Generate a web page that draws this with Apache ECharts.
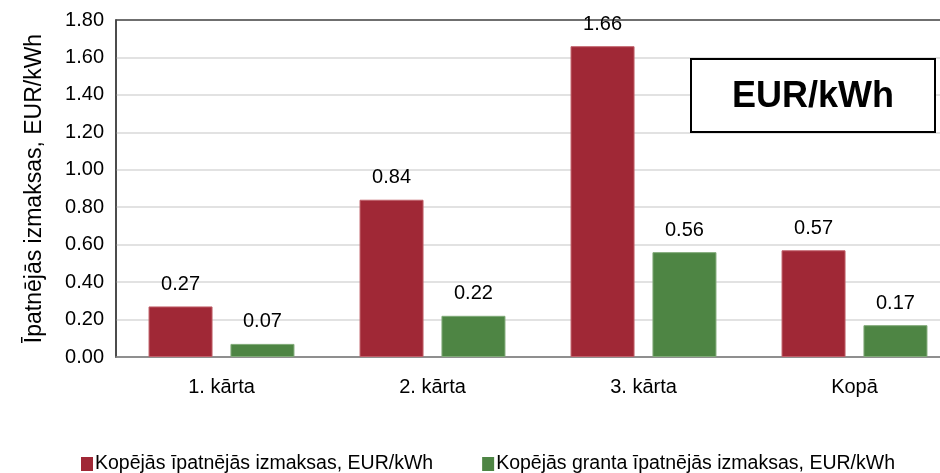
<!DOCTYPE html>
<html><head><meta charset="utf-8">
<script src="https://cdn.jsdelivr.net/npm/echarts@6/dist/echarts.min.js"></script>
<style>html,body{margin:0;padding:0;background:#fff}#c{width:940px;height:473px}</style>
</head><body><div id="c"></div>
<script>
const categories = ['1. kārta', '2. kārta', '3. kārta', 'Kopā'];
const totalCost = [0.27, 0.84, 1.66, 0.57];
const grantCost = [0.07, 0.22, 0.56, 0.17];
const seriesNames = ['Kopējās īpatnējās izmaksas, EUR/kWh', 'Kopējās granta īpatnējās izmaksas, EUR/kWh'];
const yAxisName = 'Īpatnējās izmaksas, EUR/kWh';
const boxText = 'EUR/kWh';

const FONT = '"Liberation Sans", Arial, sans-serif';
const chart = echarts.init(document.getElementById('c'));
const labelCfg = {show: true, position: 'top', distance: 12, color: '#000', fontSize: 20, fontFamily: FONT,
  formatter: p => p.value.toFixed(2)};
chart.setOption({
  animation: false,
  textStyle: {fontFamily: FONT},
  grid: {left: 116, width: 844, top: 20, height: 337, outerBoundsMode: 'none', containLabel: false,
    show: true, borderColor: '#404040', borderWidth: 1.5, backgroundColor: 'transparent'},
  legend: {
    top: 449, left: 76, itemWidth: 12, itemHeight: 14, itemGap: 49,
    icon: 'rect',
    itemStyle: {borderWidth: 0},
    textStyle: {fontSize: 19.5, color: '#000', fontFamily: FONT, padding: [0,0,0,-3]},
    data: seriesNames
  },
  xAxis: {
    type: 'category', data: categories,
    axisLine: {lineStyle: {color: '#808080', width: 1.5}},
    axisTick: {show: false},
    axisLabel: {fontSize: 20, color: '#000', fontFamily: FONT, margin: 20}
  },
  yAxis: {
    type: 'value', min: 0, max: 1.8, interval: 0.2,
    name: yAxisName, nameLocation: 'middle', nameGap: 70, nameRotate: 90,
    nameTextStyle: {fontSize: 23, color: '#000', fontFamily: FONT},
    axisLine: {show: true, lineStyle: {color: '#404040', width: 1.5}},
    axisTick: {show: false},
    splitLine: {showMaxLine: false, lineStyle: {color: '#d9d9d9', width: 1.5}},
    axisLabel: {fontSize: 20, color: '#000', fontFamily: FONT, margin: 12, formatter: v => v.toFixed(2)}
  },
  series: [
    {name: seriesNames[0], type: 'bar', data: totalCost, barWidth: 64, barGap: '28%',
     itemStyle: {color: '#A02836', borderColor: '#c0606a', borderWidth: 1}, label: labelCfg},
    {name: seriesNames[1], type: 'bar', data: grantCost, barWidth: 64,
     itemStyle: {color: '#4E8544', borderColor: '#80aa78', borderWidth: 1}, label: labelCfg}
  ],
  graphic: [{
    type: 'group', left: 690, top: 58, z: 100,
    children: [
      {type: 'rect', z: 100, shape: {x: 0, y: 0, width: 244, height: 73}, style: {fill: '#fff', stroke: '#000', lineWidth: 2}},
      {type: 'text', z: 101, x: 122, y: 38, style: {text: boxText, fontSize: 36, fontWeight: 'bold', fontFamily: FONT, fill: '#000', align: 'center', verticalAlign: 'middle'}}
    ]
  }]
});
</script></body></html>
